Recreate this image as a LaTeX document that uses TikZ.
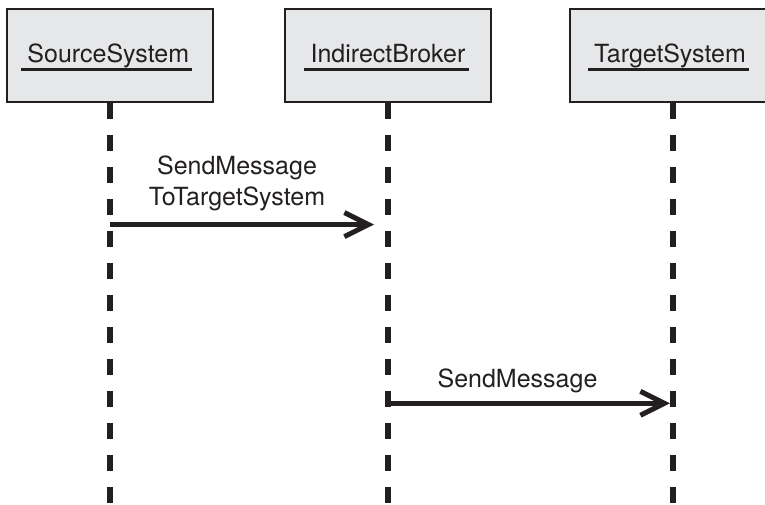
\documentclass[tikz,border=0pt]{standalone}
\usepackage{fontspec}
\setmainfont{TeX Gyre Heros}
\usetikzlibrary{arrows.meta}
\definecolor{boxfill}{RGB}{230,231,232}
\definecolor{ink}{RGB}{35,31,32}

\begin{document}
\begin{tikzpicture}[x=1pt, y=-1pt, color=ink, font=\fontsize{25}{30.7}\selectfont,
    object/.style={draw=ink, line width=2.8pt, fill=boxfill, minimum width=206pt, minimum height=93pt, inner sep=0pt},
    objname/.style={inner sep=0pt, anchor=base},
    underbar/.style={line width=2.2pt},
    lifeline/.style={line width=5.5pt, dash pattern=on 16pt off 16pt},
    msg/.style={line width=5pt, -{Straight Barb[length=24pt, width=24pt]}},
    msglabel/.style={inner sep=0pt, align=center}]
    \useasboundingbox (0,0) rectangle (765,505);

    % objects
    \node[object] (src) at (110,55.5) {};
    \node[object] (brk) at (388,55.5) {};
    \node[object] (tgt) at (673,55.5) {};
    \node[objname] (srcname) at (108.3,63) {SourceSystem};
    \node[objname] (brkname) at (388,63) {IndirectBroker};
    \node[objname] (tgtname) at (670,63) {TargetSystem};
    \draw[underbar] ([xshift=-6pt, yshift=-6.5pt]srcname.base west) -- ([xshift=3pt, yshift=-6.5pt]srcname.base east);
    \draw[underbar] ([xshift=-6pt, yshift=-6.5pt]brkname.base west) -- ([xshift=3pt, yshift=-6.5pt]brkname.base east);
    \draw[underbar] ([xshift=-6pt, yshift=-6.5pt]tgtname.base west) -- ([xshift=3pt, yshift=-6.5pt]tgtname.base east);

    % lifelines
    \coordinate (src-end) at (src.south |- 0,505);
    \coordinate (brk-end) at (brk.south |- 0,505);
    \coordinate (tgt-end) at (tgt.south |- 0,505);
    \draw[lifeline] (src.south) -- (src-end);
    \draw[lifeline] (brk.south) -- (brk-end);
    \draw[lifeline] (tgt.south) -- (tgt-end);

    % messages
    \coordinate (m1a) at (src |- 0,224.6);
    \coordinate (m1b) at (brk |- 0,224.6);
    \coordinate (m2a) at (brk |- 0,403.3);
    \coordinate (m2b) at (tgt |- 0,403.3);
    \draw[msg, shorten >=14pt] (m1a) -- (m1b);
    \draw[msg, shorten >=3pt] (m2a) -- (m2b);
    \node[msglabel, anchor=south] (m1lbl) at (237,211) {SendMessage\\ToTargetSystem};
    \node[msglabel, anchor=base] (m2lbl) at (517.5,387) {SendMessage};
\end{tikzpicture}
\end{document}
